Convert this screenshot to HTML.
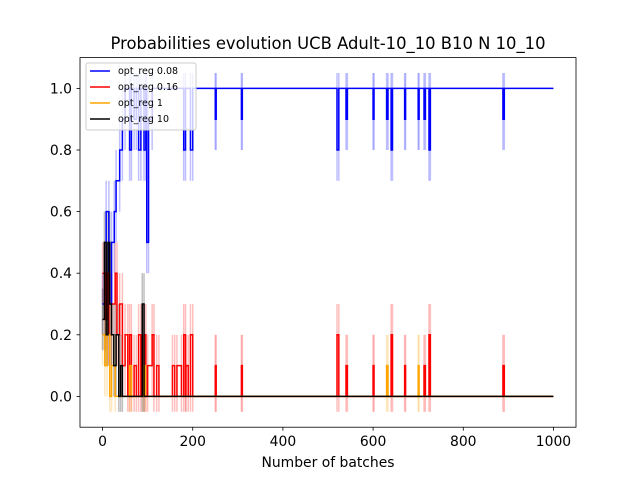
<!DOCTYPE html>
<html><head><meta charset="utf-8"><style>
body{margin:0;background:#fff}
svg text{font-family:"DejaVu Sans","Liberation Sans",sans-serif}
</style></head><body>
<svg id="c" width="640" height="480">
<rect width="640" height="480" fill="#fff"/>
<g id="faded"></g><g id="lines"></g>
<rect x="80" y="57.6" width="496" height="369.6" fill="none" stroke="#000" stroke-width="0.8"/>
<g id="axes"></g>
<text x="328" y="49" font-size="16.4" text-anchor="middle">Probabilities evolution UCB Adult-10_10 B10 N 10_10</text>
<text x="328" y="467" font-size="13.9" text-anchor="middle">Number of batches</text>
<g>
<rect x="86" y="63" width="110" height="67" rx="2" fill="#fff" fill-opacity="0.8" stroke="#ccc"/>
<g id="leg"></g></g>
</svg>
<script>
const xTicks=[0,200,400,600,800,1000];
const yTicks=[0.0,0.2,0.4,0.6,0.8,1.0];
const names=["opt_reg 0.08","opt_reg 0.16","opt_reg 1","opt_reg 10"];
const colors=["blue","red","orange","black"];
const blueX=[0,8,14,20,26,30,38,44,50,60,64,70,75,80,85,92,96,98,102,110,180,184,195,200,250,252,308,310,520,524,540,543,600,602,630,633,640,643,670,672,700,702,713,716,724,727,888,891,1000];
const blueY=[0.3,0.6,0.3,0.5,0.6,0.7,0.8,0.9,1,0.8,1,0.9,1,0.8,1,0.8,1,0.5,0.9,1,0.8,1,0.8,1,0.9,1,0.9,1,0.8,1,0.9,1,0.9,1,0.9,1,0.8,1,0.9,1,0.9,1,0.9,1,0.8,1,0.9,1,1];
const redX=[0,6,10,14,20,28,32,38,44,50,56,60,64,70,75,80,85,92,96,100,110,114,120,125,155,160,165,175,180,184,185,190,195,200,250,252,308,310,520,524,540,543,600,602,640,643,670,672,713,716,724,727,888,891,1000];
const redY=[0.4,0.25,0.4,0.2,0.3,0.4,0.2,0.3,0.1,0.2,0,0.2,0,0.1,0,0.2,0,0.2,0,0.1,0.2,0,0.1,0,0.1,0,0.1,0,0.2,0,0.1,0,0.2,0,0.1,0,0.1,0,0.2,0,0.1,0,0.1,0,0.2,0,0.1,0,0.1,0,0.2,0,0.1,0,0];
const orangeX=[0,5,10,16,20,28,60,64,90,95,630,633,700,702,1000];
const orangeY=[0.2,0.1,0.2,0,0.1,0,0.1,0,0.1,0,0.1,0,0.1,0,0];
const blackX=[0,4,8,12,16,20,25,30,36,40,44,88,92,1000];
const blackY=[0.25,0.5,0.2,0.5,0.3,0.2,0.1,0.2,0,0.1,0,0.3,0,0];
const NS="http://www.w3.org/2000/svg";
const sx=v=>80+(v+50)/1100*496, sy=v=>427.2-(v+0.1)/1.2*369.6;
function mk(t,a,p){const e=document.createElementNS(NS,t);for(const k in a)e.setAttribute(k,a[k]);p.appendChild(e);return e;}
const ax=document.getElementById('axes');
xTicks.forEach(t=>{const g=mk('g',{},ax);


mk('line',{x1:sx(t),x2:sx(t),y1:427.2,y2:430.7,stroke:'#000','stroke-width':0.8},g);
const tx=mk('text',{x:sx(t),y:446,'font-size':13.9,'text-anchor':'middle'},g);tx.textContent=t;});
yTicks.forEach(t=>{const g=mk('g',{},ax);


mk('line',{x1:76.5,x2:80,y1:sy(t),y2:sy(t),stroke:'#000','stroke-width':0.8},g);
const tx=mk('text',{x:72,y:sy(t)+5,'font-size':13.9,'text-anchor':'end'},g);tx.textContent=t.toFixed(1);});
const series=[[blueX,blueY],[redX,redY],[orangeX,orangeY],[blackX,blackY]];
const F=document.getElementById('faded'),L=document.getElementById('lines');
series.forEach(([X,Y],i)=>{
  let d='M'+sx(X[0])+','+sy(Y[0]);
  for(let j=1;j<X.length;j++){d+=' L'+sx(X[j])+','+sy(Y[j-1])+' L'+sx(X[j])+','+sy(Y[j]);}
  for(let j=0;j<X.length-1;j++){const lo=Math.min(Y[j],j?Y[j-1]:Y[j]),hi=Math.max(Y[j],j?Y[j-1]:Y[j]);
    const fl=mk('line',{x1:sx(X[j]),x2:sx(X[j]),y1:sy(Math.min(1.05,hi+0.1)),y2:sy(Math.max(-0.05,lo-0.1)),stroke:colors[i],'stroke-opacity':0.25,'stroke-width':1.5},F);
    
    }
  const p=mk('path',{d:d,fill:'none',stroke:colors[i],'stroke-width':1.5},L);
  
  
});
const lg=document.getElementById('leg');
names.forEach((n,i)=>{const y=74+i*16;const g=mk('g',{},lg);


mk('line',{x1:90,x2:110,y1:y-3,y2:y-3,stroke:colors[i],'stroke-width':1.5},g);
const t=mk('text',{x:118,y:y,'font-size':9.5},g);t.textContent=n;});
</script>
</body></html>
